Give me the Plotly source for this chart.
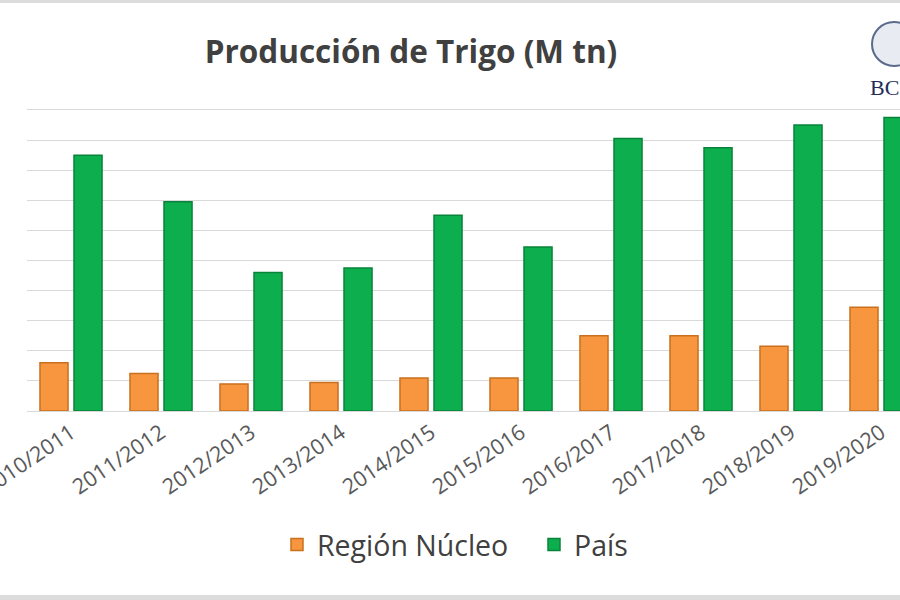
import plotly.graph_objects as go

campaigns = ["2010/2011", "2011/2012", "2012/2013", "2013/2014", "2014/2015",
             "2015/2016", "2016/2017", "2017/2018", "2018/2019", "2019/2020"]
region_nucleo = [3.2, 2.5, 1.8, 1.9, 2.2, 2.2, 5.0, 5.0, 4.3, 6.9]
pais = [17.0, 13.9, 9.2, 9.5, 13.0, 10.9, 18.1, 17.5, 19.0, 19.5]

W, H = 900, 600
left, right, top, bottom = 27, 900, 110, 411


def xd(p):
    return (p - left) / (right - left)


def yd(p):
    return (bottom - p) / (bottom - top)


fig = go.Figure()
fig.add_trace(go.Bar(x=list(range(len(campaigns))), y=region_nucleo, name="Región Núcleo",
                     marker=dict(color="#F7963F", line=dict(color="#C9701F", width=1.5))))
fig.add_trace(go.Bar(x=list(range(len(campaigns))), y=pais, name="País",
                     marker=dict(color="#0DAE4E", line=dict(color="#08843A", width=1.5))))

fig.update_layout(
    width=W, height=H,
    margin=dict(l=left, r=W - right, t=top, b=H - bottom, autoexpand=False),
    paper_bgcolor="white", plot_bgcolor="white",
    barmode="group", bargap=0.244, bargroupgap=0.176,
    title=dict(text="<b>Producción de Trigo (M tn)</b>", x=411 / W, xref="container",
               xanchor="center", y=1 - 52 / H, yanchor="middle",
               font=dict(family="Open Sans", size=31.5, color="#404040")),
    font=dict(family="Open Sans", color="#595959"),
    legend=dict(orientation="h", x=277 / W, xanchor="left", y=1 - 545 / H, yanchor="middle",
                xref="container", yref="container",
                font=dict(family="Open Sans", size=28.5, color="#404040"),
                itemwidth=30, entrywidth=212, entrywidthmode="pixels"),
    showlegend=True,
)
fig.update_xaxes(range=[-0.489, -0.489 + (right - left) / 90], tickmode="array",
                 tickvals=list(range(len(campaigns))), ticktext=campaigns,
                 tickangle=-34, tickfont=dict(family="Open Sans", size=21.5, color="#595959"),
                 ticklabeloverflow="allow",
                 showgrid=False, showline=True, linecolor="#d9d9d9", mirror=True, ticks="")
fig.update_yaxes(range=[0, 20], dtick=2, showgrid=True, gridcolor="#d9d9d9", gridwidth=1,
                 showticklabels=False, zeroline=False, ticks="")

# frame bands (top and bottom)
fig.add_shape(type="rect", xref="x domain", yref="y domain",
              x0=xd(0), x1=xd(900), y0=yd(3), y1=yd(0),
              line_width=0, fillcolor="#dcdcdc", layer="above")
fig.add_shape(type="rect", xref="x domain", yref="y domain",
              x0=xd(0), x1=xd(900), y0=yd(600), y1=yd(595),
              line_width=0, fillcolor="#dcdcdc", layer="above")
# logo (BCR)
fig.add_shape(type="rect", xref="x domain", yref="y domain",
              x0=xd(853), x1=1, y0=yd(102), y1=yd(12),
              line_width=0, fillcolor="white", layer="above")
fig.add_shape(type="circle", xref="x domain", yref="y domain",
              x0=xd(872), x1=xd(916), y0=yd(66), y1=yd(22),
              line=dict(color="#5a6a8a", width=2), fillcolor="#e8ecf2", layer="above")
fig.add_annotation(text="BC", xref="x domain", yref="y domain",
                   x=xd(868), y=yd(88), xanchor="left", yanchor="middle", showarrow=False,
                   font=dict(family="Liberation Serif", size=22, color="#1f2d5a"))

fig.write_html("out.html")
